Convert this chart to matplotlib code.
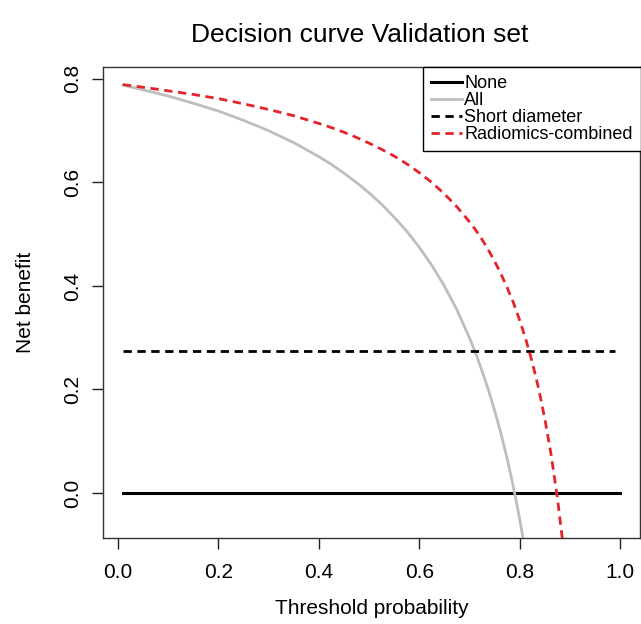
import matplotlib
matplotlib.use("Agg")
import matplotlib.pyplot as plt

plt.rcParams['font.family'] = ['Liberation Sans', 'DejaVu Sans']

# threshold probabilities
thresh = [0.01, 0.05, 0.10, 0.15, 0.20, 0.25, 0.30, 0.35, 0.40, 0.425, 0.45, 0.475,
          0.50, 0.525, 0.55, 0.575, 0.60, 0.625, 0.65, 0.675, 0.70, 0.7125, 0.725,
          0.7375, 0.75, 0.7625, 0.775, 0.7875, 0.80, 0.8125, 0.825, 0.8375, 0.85,
          0.8625, 0.875, 0.8875]

nb_all = [0.788, 0.779, 0.767, 0.753, 0.738, 0.720, 0.700, 0.677, 0.650, 0.635, 0.618, 0.600,
          0.580, 0.558, 0.533, 0.506, 0.475, 0.440, 0.400, 0.354, 0.300, 0.270, 0.236,
          0.200, 0.160, 0.116, 0.067, 0.012, -0.050, -0.120, -0.200, -0.292, -0.400,
          -0.527, -0.680, -0.867]

nb_radiomics = [0.789, 0.784, 0.777, 0.770, 0.762, 0.752, 0.741, 0.729, 0.714, 0.706, 0.697, 0.687,
                0.676, 0.664, 0.651, 0.636, 0.619, 0.600, 0.578, 0.553, 0.524, 0.508, 0.490,
                0.470, 0.448, 0.424, 0.397, 0.368, 0.334, 0.296, 0.253, 0.203, 0.144,
                0.075, -0.008, -0.109]

line_x = [0.01, 1.0]
nb_none = [0.0, 0.0]
sd_x = [0.01, 0.99]
nb_short = [0.274, 0.274]

fig = plt.figure(figsize=(6.41, 6.24), dpi=100)
ax = fig.add_axes([0.1607, 0.1378, 0.8377, 0.7548])

ax.plot(line_x, nb_none, color='black', lw=2.2, label='None')
ax.plot(thresh, nb_all, color='#bebebe', lw=2.0, label='All')
ax.plot(sd_x, nb_short, color='black', lw=2.0, ls=(0, (3, 2)), label='Short diameter')
ax.plot(thresh, nb_radiomics, color='#e3242b', lw=2.0, ls=(0, (3, 2)),
        label='Radiomics-combined')

ax.set_xlim(-0.0296, 1.0396)
ax.set_ylim(-0.087, 0.823)
ax.set_xticks([0.0, 0.2, 0.4, 0.6, 0.8, 1.0])
ax.set_yticks([0.0, 0.2, 0.4, 0.6, 0.8])
ax.set_xticklabels(['0.0', '0.2', '0.4', '0.6', '0.8', '1.0'])
ax.set_yticklabels(['0.0', '0.2', '0.4', '0.6', '0.8'], rotation=90, va='center')
ax.tick_params(direction='out', length=8, width=1, labelsize=15, color='#222222')
ax.tick_params(axis='x', pad=10)
ax.tick_params(axis='y', pad=7)
for s in ax.spines.values():
    s.set_color('#333333')
    s.set_linewidth(1)

ax.set_xlabel('Threshold probability', fontsize=15, va='center')
ax.xaxis.set_label_coords(0.5, -0.1486)
ax.set_ylabel('Net benefit', fontsize=15, va='center')
ax.yaxis.set_label_coords(-0.145, 0.5)
fig.text(0.561, 1 - 35 / 624, 'Decision curve Validation set', fontsize=19,
         ha='center', va='center')

leg = ax.legend(loc='upper right', bbox_to_anchor=(1.0019, 1.0), borderaxespad=0,
                fancybox=False, framealpha=1, edgecolor='black', fontsize=13,
                handlelength=1.7, handletextpad=0.15, labelspacing=0.0,
                borderpad=0.45)
leg.get_frame().set_linewidth(1)

fig.savefig('out.png', dpi=100)
